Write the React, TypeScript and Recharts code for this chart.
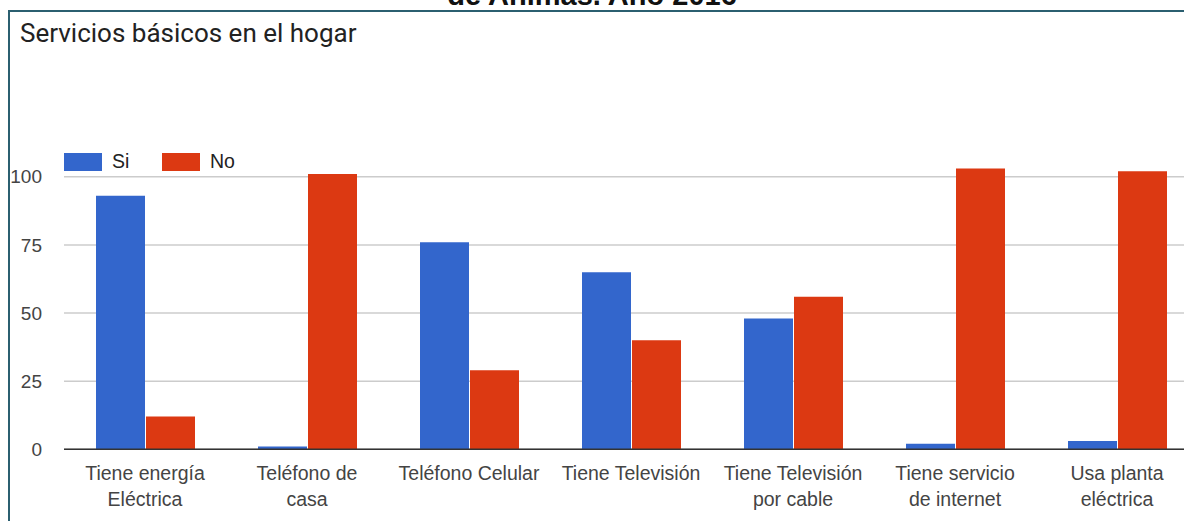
import React from 'react';
import { BarChart, Bar, XAxis, YAxis, CartesianGrid, Legend } from 'recharts';

const categories = [
  'Tiene energía\nEléctrica',
  'Teléfono de\ncasa',
  'Teléfono Celular',
  'Tiene Televisión',
  'Tiene Televisión\npor cable',
  'Tiene servicio\nde internet',
  'Usa planta\neléctrica',
];
const siValues = [93, 1, 76, 65, 48, 2, 3];
const noValues = [12, 101, 29, 40, 56, 103, 102];
const yTicks = [0, 25, 50, 75, 100];

const series = [
  { key: 'si', name: 'Si', color: '#3366cc' },
  { key: 'no', name: 'No', color: '#dc3912' },
];

const data = categories.map((name, i) => ({ name, si: siValues[i], no: noValues[i] }));

const AXIS_FONT = 'Liberation Sans, Arial, sans-serif';
const TITLE_FONT = 'Roboto, Arial, sans-serif';

const CategoryTick = ({ x, y, payload }: any) => {
  const lines = String(payload.value).split('\n');
  return (
    <text x={x} y={y} textAnchor="middle" fill="#444" fontSize={19.5} fontFamily={AXIS_FONT}>
      {lines.map((line, i) => (
        <tspan key={i} x={x} dy={i === 0 ? 31 : 26}>{line}</tspan>
      ))}
    </text>
  );
};

const renderLegend = () => (
  <div style={{ display: 'flex', alignItems: 'center', fontFamily: AXIS_FONT, fontSize: 19.5, color: '#222' }}>
    {series.map(s => (
      <div key={s.key} style={{ display: 'flex', alignItems: 'center', width: 98 }}>
        <div style={{ width: 38, height: 18, backgroundColor: s.color }} />
        <span style={{ marginLeft: 10 }}>{s.name}</span>
      </div>
    ))}
  </div>
);

const App: React.FC = () => {
  return (
    <div style={{ position: 'fixed', left: 0, top: 0, width: 1184, height: 521, overflow: 'hidden', background: '#fff' }}>
      <div style={{
        position: 'absolute', left: 0, top: -19, width: 1184, textAlign: 'center',
        fontFamily: AXIS_FONT, fontWeight: 'bold', fontSize: 29, lineHeight: '29px', color: '#111'
      }}>
        de Animas. Año 2016
      </div>
      <div style={{
        position: 'absolute', left: 8, top: 10, width: 1300, height: 600,
        border: '2px solid #2b5f70', boxSizing: 'border-box'
      }} />
      <div style={{
        position: 'absolute', left: 20, top: 18, fontFamily: TITLE_FONT, fontSize: 26,
        lineHeight: '30px', color: '#222'
      }}>
        Servicios básicos en el hogar
      </div>
      <div style={{ position: 'absolute', left: 8, top: 8 }}>
        <BarChart
          width={1250}
          height={513}
          data={data}
          margin={{ top: 100.6, right: 60, bottom: 11.7, left: 0 }}
          barSize={49}
          barGap={1}
        >
          <CartesianGrid vertical={false} horizontalValues={yTicks} stroke="#cccccc" strokeWidth={1.5} />
          <XAxis
            dataKey="name"
            height={60}
            interval={0}
            tickLine={false}
            tickSize={0}
            tickMargin={0}
            axisLine={{ stroke: '#333', strokeWidth: 1.5 }}
            tick={<CategoryTick />}
          />
          <YAxis
            width={56}
            domain={[0, 125]}
            ticks={yTicks}
            axisLine={false}
            tickLine={false}
            tickSize={6}
            tickMargin={16}
            tick={{ fill: '#444', fontSize: 19, fontFamily: AXIS_FONT }}
          />
          <Legend
            layout="horizontal"
            verticalAlign="middle"
            align="center"
            content={renderLegend}
            wrapperStyle={{ top: 142, left: 56, width: 300, height: 18 }}
          />
          {series.map(s => (
            <Bar key={s.key} dataKey={s.key} name={s.name} fill={s.color} isAnimationActive={false} />
          ))}
        </BarChart>
      </div>
    </div>
  );
};

export default App;
